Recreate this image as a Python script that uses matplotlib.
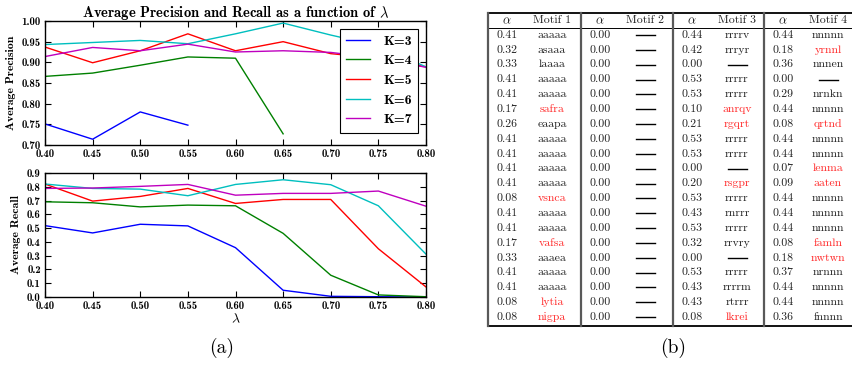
import numpy as np
import matplotlib
matplotlib.use("Agg")
import matplotlib.pyplot as plt

plt.rcParams['mathtext.fontset'] = 'cm'
plt.rcParams['axes.unicode_minus'] = False
plt.rcParams['axes.formatter.use_mathtext'] = True

# ---- left: precision / recall curves ----
lambdas = [0.40, 0.45, 0.50, 0.55, 0.60, 0.65, 0.70, 0.75, 0.80]
k_labels = ["K=3", "K=4", "K=5", "K=6", "K=7"]
k_colors = ["b", "g", "r", "c", "m"]
nan = np.nan

precision_k3 = [0.751, 0.714, 0.780, 0.748, nan, nan, nan, nan, nan]
precision_k4 = [0.866, 0.874, 0.893, 0.913, 0.910, 0.727, nan, nan, nan]
precision_k5 = [0.937, 0.899, 0.928, 0.969, 0.928, 0.950, 0.921, 0.910, 0.889]
precision_k6 = [0.943, 0.948, 0.953, 0.945, 0.969, 0.995, 0.966, 0.940, 0.889]
precision_k7 = [0.914, 0.936, 0.928, 0.944, 0.925, 0.928, 0.924, 0.910, 0.888]

recall_k3 = [0.518, 0.465, 0.528, 0.516, 0.358, 0.049, 0.005, 0.002, 0.0]
recall_k4 = [0.691, 0.684, 0.654, 0.667, 0.662, 0.462, 0.158, 0.015, 0.002]
recall_k5 = [0.820, 0.696, 0.730, 0.788, 0.679, 0.708, 0.708, 0.350, 0.073]
recall_k6 = [0.820, 0.788, 0.783, 0.735, 0.817, 0.851, 0.815, 0.662, 0.311]
recall_k7 = [0.788, 0.791, 0.803, 0.817, 0.739, 0.752, 0.752, 0.769, 0.659]

precisions = [precision_k3, precision_k4, precision_k5, precision_k6, precision_k7]
recalls = [recall_k3, recall_k4, recall_k5, recall_k6, recall_k7]

x_ticks = ["0.40", "0.45", "0.50", "0.55", "0.60", "0.65", "0.70", "0.75", "0.80"]
prec_ticks = ["0.70", "0.75", "0.80", "0.85", "0.90", "0.95", "1.00"]
rec_ticks = ["0.0", "0.1", "0.2", "0.3", "0.4", "0.5", "0.6", "0.7", "0.8", "0.9"]

# ---- right: motif table ----
alpha1 = ["0.41", "0.32", "0.33", "0.41", "0.41", "0.17", "0.26", "0.41", "0.41", "0.41",
          "0.41", "0.08", "0.41", "0.41", "0.17", "0.33", "0.41", "0.41", "0.08", "0.08"]
motif1 = ["aaaaa", "asaaa", "laaaa", "aaaaa", "aaaaa", "safra", "eaapa", "aaaaa", "aaaaa", "aaaaa",
          "aaaaa", "vsnca", "aaaaa", "aaaaa", "vafsa", "aaaea", "aaaaa", "aaaaa", "lytia", "nigpa"]
alpha2 = ["0.00"] * 20
motif2 = [""] * 20
alpha3 = ["0.44", "0.42", "0.00", "0.53", "0.53", "0.10", "0.21", "0.53", "0.53", "0.00",
          "0.20", "0.53", "0.43", "0.53", "0.32", "0.00", "0.53", "0.43", "0.43", "0.08"]
motif3 = ["rrrrv", "rrryr", "", "rrrrr", "rrrrr", "anrqv", "rgqrt", "rrrrr", "rrrrr", "",
          "rsgpr", "rrrrr", "rnrrr", "rrrrr", "rrvry", "", "rrrrr", "rrrrm", "rtrrr", "lkrei"]
alpha4 = ["0.44", "0.18", "0.36", "0.00", "0.29", "0.44", "0.08", "0.44", "0.44", "0.07",
          "0.09", "0.44", "0.44", "0.44", "0.08", "0.18", "0.37", "0.44", "0.44", "0.36"]
motif4 = ["nnnnn", "yrnnl", "nnnen", "", "nrnkn", "nnnnn", "qrtnd", "nnnnn", "nnnnn", "lenma",
          "aaten", "nnnnn", "nnnnn", "nnnnn", "famln", "nwtwn", "nrnnn", "nnnnn", "nnnnn", "fnnnn"]
# motifs printed in red
red_motifs = {"safra", "vsnca", "vafsa", "lytia", "nigpa", "anrqv", "rgqrt", "rsgpr", "lkrei",
              "yrnnl", "qrtnd", "lenma", "aaten", "famln", "nwtwn"}

W, H = 852, 366
fig = plt.figure(figsize=(W / 100, H / 100), dpi=100)
fig.patch.set_facecolor("white")

ax1 = fig.add_axes([45 / W, 1 - 145 / H, 381 / W, 124 / H])
ax2 = fig.add_axes([45 / W, 1 - 297 / H, 381 / W, 124 / H])

bold = dict(family="cmb10")
for i in range(len(k_labels)):
    ax1.plot(lambdas, precisions[i], color=k_colors[i], lw=1.0, label=k_labels[i])
    ax2.plot(lambdas, recalls[i], color=k_colors[i], lw=1.0)

for ax in (ax1, ax2):
    ax.set_xlim(0.40, 0.80)
    ax.set_xticks([float(t) for t in x_ticks])
    ax.set_xticklabels(x_ticks, fontsize=7.8, **bold)
    ax.tick_params(direction="in", top=True, right=True, length=4, width=0.8, pad=3)
    for s in ax.spines.values():
        s.set_linewidth(1.0)

ax1.set_ylim(0.70, 1.00)
ax1.set_yticks([float(t) for t in prec_ticks])
ax1.set_yticklabels(prec_ticks, fontsize=7.8, **bold)
ax1.set_ylabel("Average Precision", fontsize=8.5, labelpad=4, **bold)
ax1.set_title("Average Precision and Recall as a function of $\\lambda$",
              fontsize=10.5, pad=3, **bold)

ax2.set_ylim(0.0, 0.9)
ax2.set_yticks([float(t) for t in rec_ticks])
ax2.set_yticklabels(rec_ticks, fontsize=7.8, **bold)
ax2.set_ylabel("Average Recall", fontsize=8.5, labelpad=4, **bold)
ax2.set_xlabel("$\\lambda$", fontsize=10, labelpad=1)

leg = ax1.legend(loc="upper right", fancybox=False, framealpha=1, edgecolor="black",
                 prop=dict(family="cmb10", size=10), handlelength=1.7,
                 handletextpad=1.0, labelspacing=0.5, borderaxespad=0.55,
                 borderpad=0.45)
leg.get_frame().set_linewidth(0.8)

# table drawn in pixel coordinates
tab = fig.add_axes([480 / W, 0, (W - 480) / W, 1])
tab.set_xlim(480, W)
tab.set_ylim(H, 0)
tab.axis("off")

block_left = [488, 581, 673, 764]
alphas = [alpha1, alpha2, alpha3, alpha4]
motifs = [motif1, motif2, motif3, motif4]
top_y, head_y, bot_y = 12.5, 28, 326
row0, row_h = 35, 14.85
txt = dict(family="cmr10", fontsize=8.5, ha="center", va="center")

tab.plot([488, 870], [top_y, top_y], color="black", lw=1.3, clip_on=False)
tab.plot([488, 870], [head_y, head_y], color="black", lw=0.7)
tab.plot([488, 870], [bot_y, bot_y], color="black", lw=1.3)
for L in block_left:
    tab.plot([L, L], [top_y, bot_y], color="0.35", lw=1.6)

for b, L in enumerate(block_left):
    tab.text(L + 19, 20.5, "$\\alpha$", fontsize=9, ha="center", va="center", color="#222222")
    tab.text(L + 64, 20.5, "Motif %d" % (b + 1), color="#222222", **txt)
    for r in range(20):
        y = row0 + r * row_h
        tab.text(L + 19, y, alphas[b][r], color="#222222", **txt)
        m = motifs[b][r]
        if m == "":
            tab.plot([L + 55, L + 74], [y, y], color="black", lw=1.0)
        else:
            col = "#ff2a2a" if m in red_motifs else "#222222"
            tab.text(L + 64, y, m, color=col, **txt)

fig.text(222 / W, 1 - 348 / H, "(a)", family="cmr10", fontsize=14, ha="center", va="center")
fig.text(673 / W, 1 - 348 / H, "(b)", family="cmr10", fontsize=14, ha="center", va="center")

fig.savefig("out.png", dpi=100, facecolor="white")
